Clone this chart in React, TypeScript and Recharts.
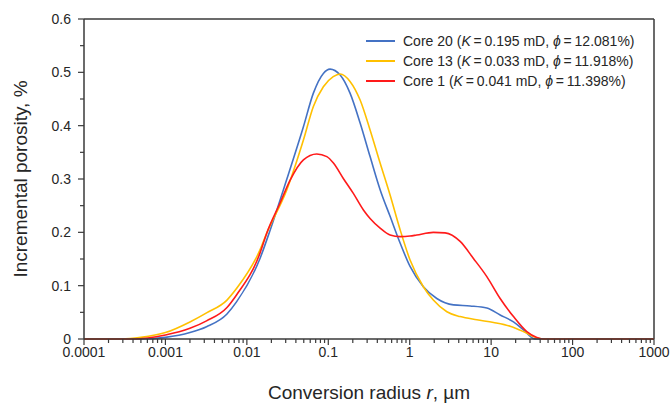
import { LineChart, Line, XAxis, YAxis, Legend, ReferenceLine } from "recharts";

// conversion radius r (µm) vs incremental porosity (%)
const core20: [number, number][] = [
  [0.0001, 0], [0.0005, 0], [0.001, 0.003], [0.002, 0.012], [0.0032, 0.023], [0.0057, 0.047],
  [0.0075, 0.07], [0.0145, 0.151], [0.0193, 0.204], [0.031, 0.3], [0.0495, 0.398],
  [0.0656, 0.461], [0.087, 0.498], [0.105, 0.506], [0.14, 0.495], [0.185, 0.461], [0.246, 0.405],
  [0.326, 0.342], [0.433, 0.28], [0.574, 0.23], [0.762, 0.18], [1.01, 0.136], [1.47, 0.098],
  [2.15, 0.076], [3.45, 0.064], [5.52, 0.062], [8.85, 0.058], [12.9, 0.045], [18.8, 0.032],
  [24.9, 0.017], [33.1, 0.001], [36, 0], [1000, 0],
];
const core13: [number, number][] = [
  [0.0001, 0], [0.00029, 0], [0.0005, 0.003], [0.001, 0.012], [0.002, 0.032], [0.0032, 0.049],
  [0.0057, 0.073], [0.0075, 0.095], [0.0145, 0.167], [0.0175, 0.198], [0.031, 0.28], [0.0495, 0.373],
  [0.0656, 0.436], [0.087, 0.473], [0.115, 0.492], [0.14, 0.497], [0.185, 0.483], [0.246, 0.448],
  [0.326, 0.392], [0.433, 0.33], [0.574, 0.27], [0.762, 0.205], [1.01, 0.148], [1.47, 0.098],
  [1.95, 0.073], [2.86, 0.051], [4.16, 0.042], [6.67, 0.036], [10.7, 0.031], [17.1, 0.024],
  [24.9, 0.014], [36.4, 0.002], [46, 0], [1000, 0],
];
const core1: [number, number][] = [
  [0.0001, 0], [0.0004, 0], [0.001, 0.0075], [0.002, 0.02], [0.0032, 0.034], [0.0057, 0.059],
  [0.0075, 0.083], [0.0145, 0.161], [0.0175, 0.198], [0.0256, 0.255], [0.034, 0.298], [0.0495, 0.336],
  [0.0722, 0.347], [0.096, 0.342], [0.1156, 0.33], [0.153, 0.301], [0.203, 0.273], [0.27, 0.242],
  [0.326, 0.226], [0.433, 0.208], [0.574, 0.195], [0.762, 0.192], [1.01, 0.193], [1.22, 0.195],
  [1.95, 0.2], [2.72, 0.199], [4.16, 0.183], [6.06, 0.151], [8.85, 0.117], [12.9, 0.076],
  [18.8, 0.042], [27.4, 0.014], [36.4, 0.003], [46, 0], [1000, 0],
];

const seriesNames = ["Core 20", "Core 13", "Core 1"];
const seriesK = ["0.195", "0.033", "0.041"];
const seriesPhi = ["12.081", "11.918", "11.398"];
const seriesColors = ["#4472c4", "#ffc000", "#ff1a1a"];

const xMajors = [0.0001, 0.001, 0.01, 0.1, 1, 10, 100, 1000];
const xMajorLabels = ["0.0001", "0.001", "0.01", "0.1", "1", "10", "100", "1000"];
const yTicks = [0, 0.05, 0.1, 0.15, 0.2, 0.25, 0.3, 0.35, 0.4, 0.45, 0.5, 0.55, 0.6];
const yLabels = ["0", "", "0.1", "", "0.2", "", "0.3", "", "0.4", "", "0.5", "", "0.6"];

const xTicks = [
  ...xMajors.slice(0, -1).flatMap((m) => [1, 2, 3, 4, 5, 6, 7, 8, 9].map((k) => +(k * m).toPrecision(3))),
  1000,
];

const toPts = (s: [number, number][]) => s.map(([x, y]) => ({ x, y }));
const allSeries = [core20, core13, core1].map(toPts);

const FONT = '"Liberation Sans", Arial, sans-serif';
const AXIS = "#3a3a3a";
const TXT = "#262626";

const XTick = (props: any) => {
  const { x, y, payload } = props;
  const i = xMajors.findIndex((m) => Math.abs(m - payload.value) / m < 1e-6);
  const major = i >= 0;
  return (
    <g>
      <line x1={x} x2={x} y1={y} y2={y + (major ? 6 : 4)} stroke={AXIS} strokeWidth={1.2} />
      {major && (
        <text x={x} y={y + 18} textAnchor="middle" fontSize={14} fontFamily={FONT} fill={TXT}>
          {xMajorLabels[i]}
        </text>
      )}
    </g>
  );
};

const YTick = (props: any) => {
  const { x, y, index } = props;
  const label = yLabels[index];
  const major = label !== "";
  return (
    <g>
      <line x1={x - (major ? 6 : 4)} x2={x} y1={y} y2={y} stroke={AXIS} strokeWidth={1.2} />
      {major && (
        <text x={x - 13} y={y + 5} textAnchor="end" fontSize={14} fontFamily={FONT} fill={TXT}>
          {label}
        </text>
      )}
    </g>
  );
};

const renderLegend = () => (
  <div style={{ fontFamily: FONT, fontSize: 14, color: TXT }}>
    {seriesNames.map((n, i) => (
      <div key={n} style={{ display: "flex", alignItems: "center", height: 20, whiteSpace: "nowrap" }}>
        <span style={{ display: "inline-block", width: 29, height: 2, background: seriesColors[i], marginRight: 8 }} />
        <span>
          {n} (<i>K</i>{"\u2009=\u2009"}{seriesK[i]} mD, <i>ϕ</i>{"\u2009=\u2009"}{seriesPhi[i]}%)
        </span>
      </div>
    ))}
  </div>
);

export default function App() {
  return (
    <div style={{ position: "absolute", left: 0, top: 0, background: "#fff" }}>
      <LineChart width={670} height={406} margin={{ top: 19, right: 16, bottom: 37, left: 24 }}>
        <XAxis
          type="number"
          dataKey="x"
          scale="log"
          domain={[0.0001, 1000]}
          allowDataOverflow
          ticks={xTicks}
          interval={0}
          tick={<XTick />}
          tickLine={false}
          tickSize={0}
          tickMargin={0}
          height={30}
          axisLine={{ stroke: AXIS, strokeWidth: 1.5 }}
          label={{
            content: () => (
              <text x={369} y={399} textAnchor="middle" fontSize={19} fontFamily={FONT} fill={TXT}>
                Conversion radius <tspan fontStyle="italic">r</tspan>, µm
              </text>
            ),
          }}
        />
        <YAxis
          type="number"
          dataKey="y"
          domain={[0, 0.6]}
          ticks={yTicks}
          interval={0}
          tick={<YTick />}
          tickLine={false}
          tickSize={0}
          tickMargin={0}
          width={60}
          axisLine={{ stroke: AXIS, strokeWidth: 1.5 }}
          label={{
            content: () => (
              <text
                x={27}
                y={179}
                transform="rotate(-90, 27, 179)"
                textAnchor="middle"
                fontSize={19}
                fontFamily={FONT}
                fill={TXT}
              >
                Incremental porosity, %
              </text>
            ),
          }}
        />
        <ReferenceLine y={0.6} stroke={AXIS} strokeWidth={1.5} />
        <ReferenceLine x={1000} stroke={AXIS} strokeWidth={1.5} />
        {allSeries.map((d, i) => (
          <Line
            key={seriesNames[i]}
            data={d}
            dataKey="y"
            name={seriesNames[i]}
            type="monotone"
            stroke={seriesColors[i]}
            strokeWidth={1.6}
            dot={false}
            isAnimationActive={false}
          />
        ))}
        <Legend
          layout="vertical"
          align="center"
          verticalAlign="middle"
          content={renderLegend}
          wrapperStyle={{ top: 31, left: 366, width: 290 }}
        />
      </LineChart>
    </div>
  );
}
